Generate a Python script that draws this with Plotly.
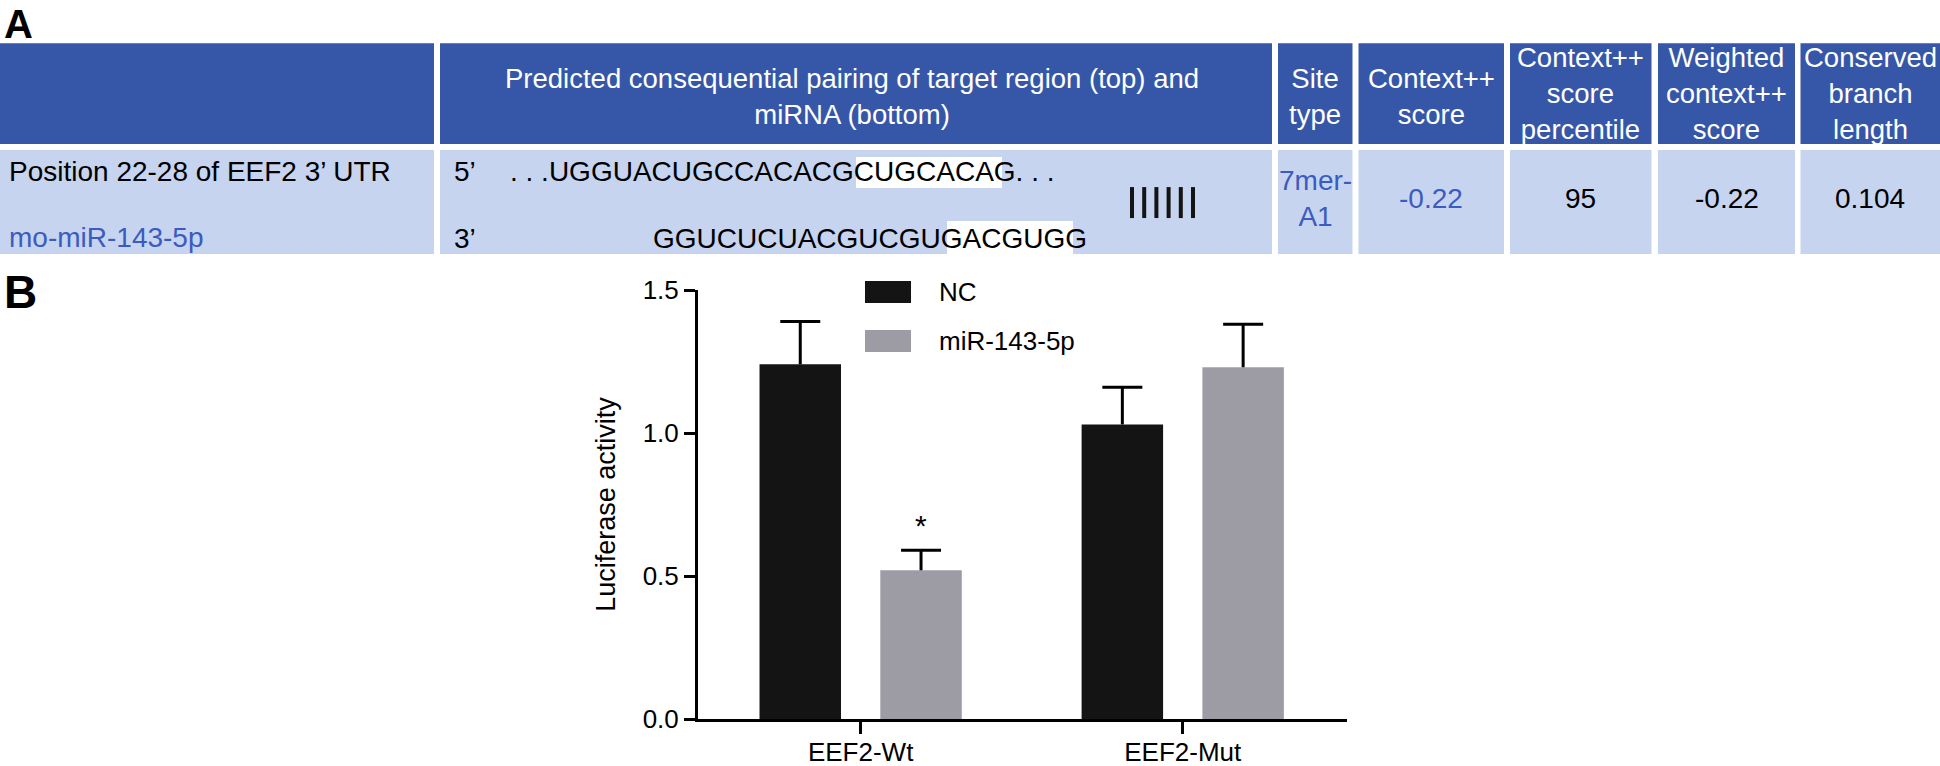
import plotly.graph_objects as go

# ---- data -------------------------------------------------------------
GROUPS = ["EEF2-Wt", "EEF2-Mut"]
NC_MEAN = [1.24, 1.03]
NC_ERR = [0.15, 0.13]
MIR_MEAN = [0.52, 1.23]
MIR_ERR = [0.07, 0.15]
MIR_SIG = ["*", ""]
SERIES_NAMES = ["NC", "miR-143-5p"]
Y_TICKS = [0.0, 0.5, 1.0, 1.5]

HEADERS = [
    "",
    "Predicted consequential pairing of target region (top) and<br>miRNA (bottom)",
    "Site<br>type",
    "Context++<br>score",
    "Context++<br>score<br>percentile",
    "Weighted<br>context++<br>score",
    "Conserved<br>branch<br>length",
]
TARGET_LABEL = "Position 22-28 of EEF2 3’ UTR"
MIRNA_LABEL = "mo-miR-143-5p"
UTR_SEQ = ". . .UGGUACUGCCACACGCUGCACAG. . ."
MIRNA_SEQ = "GGUCUCUACGUCGUGACGUGG"
SEED_PAIRS = 6
ROW_VALUES = ["7mer-<br>A1", "-0.22", "95", "-0.22", "0.104"]
ROW_BLUE = [True, True, False, False, False]

# ---- style ------------------------------------------------------------
W, H = 1940, 766
PL, PR, PT, PB = 698, 1347, 290, 719.3  # plot area in pixels
FONT = "Liberation Sans, Arial, Helvetica, sans-serif"
HEAD_BLUE = "#3657A8"
ROW_BLUE_BG = "#C6D4F0"
TEXT_BLUE = "#3C5BBE"
BLACK = "#141414"
GREY = "#9D9CA4"

COL_EDGES = [(0, 434), (440, 1272), (1278, 1352.5), (1358.5, 1504),
             (1510, 1651.5), (1658, 1795), (1800.5, 1942)]
HEAD_Y = (43, 144)
ROW_Y = (150, 254)

BAR_W = 0.253
OFF = 0.1875


def px(x):
    return (x - PL) / (PR - PL)


def py(y):
    return (PB - y) / (PB - PT)


def rect(x0, y0, x1, y1, color):
    return dict(type="rect", xref="paper", yref="paper", x0=px(x0), x1=px(x1),
                y0=py(y1), y1=py(y0), fillcolor=color, line_width=0, layer="below")


def text(x, y, s, size=27.5, color="black", xanchor="center", yanchor="middle", bold=False):
    return dict(x=px(x), y=py(y), xref="paper", yref="paper", text=f"<b>{s}</b>" if bold else s,
                showarrow=False, xanchor=xanchor, yanchor=yanchor, align="center",
                font=dict(family=FONT, size=size, color=color))


fig = go.Figure()
series = [(NC_MEAN, NC_ERR, BLACK, -OFF), (MIR_MEAN, MIR_ERR, GREY, OFF)]
for (mean, err, color, shift), name in zip(series, SERIES_NAMES):
    xs = [i + shift for i in range(len(GROUPS))]
    # bar with the error stem (upper side only)
    fig.add_trace(go.Bar(
        x=xs, y=mean, width=BAR_W, name=name, marker=dict(color=color, line_width=0),
        error_y=dict(type="data", array=err, arrayminus=[0] * len(err), symmetric=False,
                     color="black", thickness=3, width=0),
    ))
    # cap at the top of the error stem
    fig.add_trace(go.Scatter(
        x=xs, y=[m + e for m, e in zip(mean, err)], mode="markers", marker=dict(opacity=0),
        error_y=dict(type="data", array=[0] * len(err), color="black", thickness=3, width=20),
        hoverinfo="skip", showlegend=False,
    ))

annotations = []
for i, s in enumerate(MIR_SIG):
    if s:
        annotations.append(dict(x=i + OFF, y=MIR_MEAN[i] + MIR_ERR[i], xref="x", yref="y", text=s,
                                showarrow=False, yanchor="bottom", yshift=6,
                                font=dict(family=FONT, size=30, color="black")))

# manual legend
shapes = []
legend_fill = [BLACK, GREY]
for k, name in enumerate(SERIES_NAMES):
    yc = 292 + k * 49
    shapes.append(dict(type="rect", xref="paper", yref="paper", x0=px(865), x1=px(911),
                       y0=py(yc + 11), y1=py(yc - 11), fillcolor=legend_fill[k], line_width=0))
    annotations.append(text(937, yc, name, size=26, xanchor="left"))

# table: header + row
for j, (x0, x1) in enumerate(COL_EDGES):
    shapes.append(rect(x0, HEAD_Y[0], x1, HEAD_Y[1], HEAD_BLUE))
    shapes.append(rect(x0, ROW_Y[0], x1, ROW_Y[1], ROW_BLUE_BG))
    if HEADERS[j]:
        ny = HEADERS[j].count("<br>") + 1
        yc = 96.5 if ny < 3 else 93
        xc = (x0 + min(x1, 1940)) / 2
        if j == 1:
            xc -= 4
        annotations.append(text(xc, yc, HEADERS[j], color="white"))

annotations.append(text(7, 171, TARGET_LABEL, size=28, xanchor="left"))
annotations.append(text(7, 237, MIRNA_LABEL, size=28, color=TEXT_BLUE, xanchor="left"))

# sequence pairing cell
shapes.append(rect(856, 157, 1002, 188, "white"))
shapes.append(rect(947, 221, 1073, 254, "white"))
annotations.append(text(452, 171, "5’", size=28, xanchor="left"))
annotations.append(text(452, 238, "3’", size=28, xanchor="left"))
annotations.append(text(508, 171, UTR_SEQ, size=28, xanchor="left"))
annotations.append(text(651, 238, MIRNA_SEQ, size=28, xanchor="left"))
for k in range(SEED_PAIRS):
    xb = 1132 + k * 12.2
    shapes.append(dict(type="line", xref="paper", yref="paper", x0=px(xb), x1=px(xb),
                       y0=py(218), y1=py(187), line=dict(color=BLACK, width=4)))

for j, val in enumerate(ROW_VALUES):
    x0, x1 = COL_EDGES[j + 2]
    xc = (x0 + min(x1, 1940)) / 2
    annotations.append(text(xc, 198, val, size=28, color=TEXT_BLUE if ROW_BLUE[j] else "black"))

# panel letters
annotations.append(text(2, 0, "A", size=40, xanchor="left", yanchor="top", bold=True))
annotations.append(text(2, 292, "B", size=46, xanchor="left", bold=True))

fig.update_layout(
    width=W, height=H,
    margin=dict(l=PL, r=W - PR, t=PT, b=H - PB, pad=0),
    paper_bgcolor="white", plot_bgcolor="white",
    barmode="overlay",
    showlegend=False,
    font=dict(family=FONT, size=26, color="black"),
    shapes=shapes, annotations=annotations,
)
fig.update_xaxes(
    range=[-0.505, 1.51], tickvals=list(range(len(GROUPS))), ticktext=GROUPS,
    showline=True, linewidth=3, linecolor="black",
    ticks="outside", ticklen=12, tickwidth=3, tickcolor="black", ticklabelstandoff=-4,
    tickfont=dict(family=FONT, size=26), showgrid=False, zeroline=False, automargin=False,
)
fig.update_yaxes(
    range=[0, 1.5], tickvals=Y_TICKS, tickformat=".1f", showline=True, linewidth=3,
    linecolor="black", ticks="outside", ticklen=11, tickwidth=3, tickcolor="black",
    tickfont=dict(family=FONT, size=26), showgrid=False, zeroline=False, automargin=False,
    title=dict(text="Luciferase activity", font=dict(family=FONT, size=27), standoff=20),
)

fig.write_html("out.html", config={"displayModeBar": False},
               post_script="document.body.style.margin='0';")
